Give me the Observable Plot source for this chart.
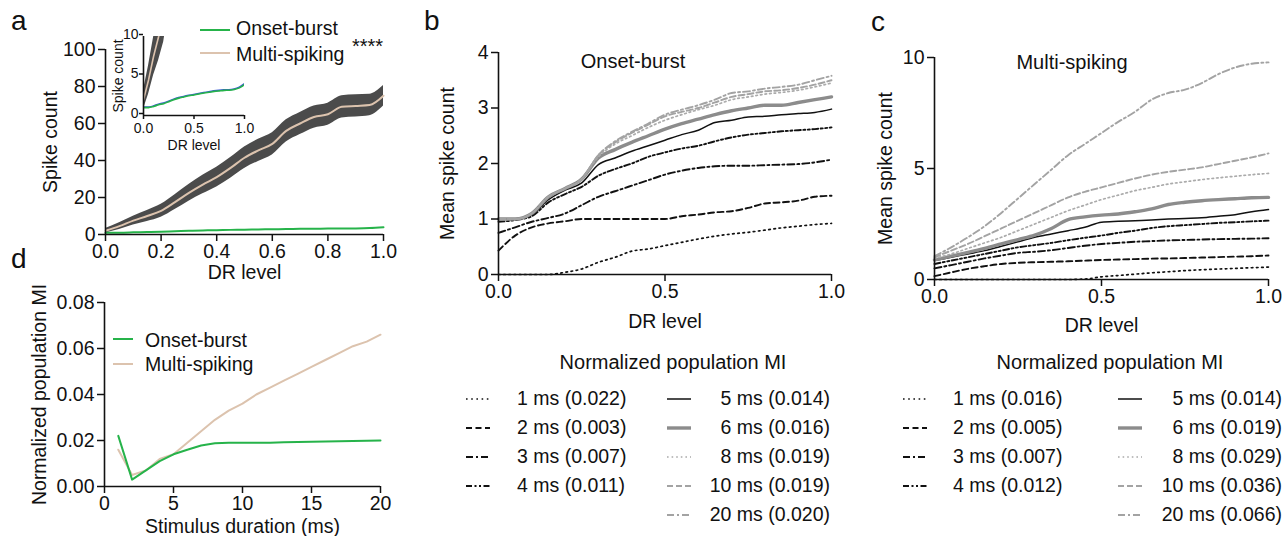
<!DOCTYPE html>
<html><head><meta charset="utf-8">
<script src="https://cdn.jsdelivr.net/npm/d3@7"></script>
<script src="https://cdn.jsdelivr.net/npm/@observablehq/plot@0.6"></script>
<style>
body{margin:0;background:#fff;}
#fig{position:relative;width:1285px;height:536px;overflow:hidden;background:#fff;font-family:"Liberation Sans",Arial,sans-serif;color:#111;}
#fig > svg, #fig > figure{position:absolute;margin:0;}
</style></head>
<body><div id="fig"></div>
<script>
// ---------- DATA ----------
const DR = [0,0.05,0.1,0.15,0.2,0.25,0.3,0.35,0.4,0.45,0.5,0.55,0.6,0.65,0.7,0.75,0.8,0.85,0.9,0.95,1.0];
// Panel a: spike count vs DR level
const aMultiMean = [2,4.5,7.5,10,12.8,17.5,22.5,27,31,36,41.5,45.5,49,56,60,63.5,65,69,69.5,70,75];
const aMultiHalf = [1.2,1.8,2.4,3,3.5,4,4.5,5,5.3,5.6,5.8,6,6,6,6,6,6,6,6,5.8,5.5];
const aOnsetMean = [1.0,1.0,1.15,1.35,1.5,1.75,2.0,2.2,2.35,2.5,2.6,2.72,2.85,2.95,3.05,3.12,3.18,3.2,3.3,3.5,3.9];
const aOnsetHalf = [0.1,0.1,0.1,0.1,0.1,0.1,0.1,0.1,0.1,0.1,0.1,0.1,0.1,0.1,0.1,0.1,0.1,0.1,0.1,0.12,0.15];
// Panel b: onset-burst mean spike count per stimulus duration
const durations = ["1 ms","2 ms","3 ms","4 ms","5 ms","6 ms","8 ms","10 ms","20 ms"];
const ob1  = [0,0,0,0,0.04,0.1,0.22,0.31,0.42,0.46,0.52,0.58,0.64,0.69,0.73,0.76,0.8,0.84,0.87,0.9,0.92];
const ob2  = [0.43,0.7,0.85,0.92,0.96,1.0,1.0,1.0,1.0,1.0,1.0,1.05,1.08,1.12,1.14,1.2,1.28,1.3,1.33,1.4,1.42];
const ob3  = [0.75,0.85,0.95,1.02,1.1,1.25,1.4,1.5,1.6,1.7,1.8,1.87,1.92,1.95,1.96,1.96,1.97,1.98,1.99,2.02,2.07];
const ob4  = [0.95,0.98,1.05,1.3,1.45,1.58,1.78,1.9,2.0,2.12,2.2,2.27,2.32,2.4,2.47,2.52,2.55,2.58,2.6,2.62,2.65];
const ob5  = [1.0,1.0,1.08,1.35,1.52,1.65,1.98,2.1,2.22,2.32,2.42,2.52,2.6,2.74,2.78,2.84,2.85,2.88,2.9,2.92,2.98];
const ob6  = [1.0,1.0,1.1,1.4,1.55,1.72,2.1,2.25,2.38,2.5,2.62,2.72,2.8,2.88,2.95,3.0,3.05,3.05,3.1,3.15,3.2];
const ob8  = [1.0,1.0,1.1,1.4,1.55,1.72,2.12,2.35,2.5,2.65,2.78,2.88,2.97,3.05,3.15,3.2,3.25,3.28,3.32,3.38,3.45];
const ob10 = [1.0,1.0,1.1,1.4,1.55,1.72,2.15,2.38,2.55,2.7,2.85,2.93,3.0,3.1,3.2,3.25,3.3,3.32,3.36,3.42,3.5];
const ob20 = [1.0,1.0,1.1,1.4,1.55,1.72,2.15,2.4,2.57,2.72,2.88,2.97,3.05,3.15,3.27,3.3,3.35,3.38,3.42,3.5,3.58];
// Panel c: multi-spiking
const ms1  = [0,0,0,0,0,0,0,0,0,0.02,0.12,0.18,0.24,0.3,0.35,0.4,0.44,0.47,0.5,0.53,0.56];
const ms2  = [0.15,0.32,0.48,0.6,0.7,0.75,0.78,0.8,0.82,0.85,0.88,0.9,0.92,0.94,0.95,0.97,0.99,1.01,1.03,1.05,1.08];
const ms3  = [0.5,0.65,0.8,0.95,1.08,1.2,1.25,1.32,1.42,1.52,1.6,1.65,1.7,1.73,1.76,1.78,1.8,1.82,1.83,1.84,1.86];
const ms4  = [0.7,0.85,1.0,1.15,1.3,1.45,1.55,1.65,1.77,1.88,1.98,2.1,2.2,2.32,2.4,2.45,2.5,2.55,2.58,2.62,2.65];
const ms5  = [0.85,1.0,1.15,1.3,1.5,1.7,1.9,2.05,2.2,2.35,2.58,2.62,2.65,2.68,2.72,2.75,2.78,2.85,2.92,3.05,3.15];
const ms6  = [0.88,1.05,1.22,1.4,1.6,1.8,2.0,2.3,2.7,2.82,2.9,2.95,3.05,3.18,3.38,3.48,3.55,3.6,3.64,3.68,3.7];
const ms8  = [0.95,1.15,1.4,1.65,1.9,2.2,2.5,2.8,3.1,3.35,3.6,3.8,4.0,4.15,4.3,4.4,4.5,4.58,4.65,4.72,4.78];
const ms10 = [1.0,1.3,1.6,1.95,2.3,2.65,3.0,3.35,3.7,3.95,4.15,4.35,4.55,4.72,4.85,4.95,5.05,5.2,5.35,5.5,5.68];
const ms20 = [1.05,1.45,1.9,2.4,3.0,3.65,4.3,4.95,5.6,6.1,6.6,7.1,7.55,8.1,8.4,8.55,8.85,9.25,9.55,9.72,9.78];
const miOnset = ["0.022","0.003","0.007","0.011","0.014","0.016","0.019","0.019","0.020"];
const miMulti = ["0.016","0.005","0.007","0.012","0.014","0.019","0.029","0.036","0.066"];
// Panel d: normalized population MI vs stimulus duration
const stimDur = [1,2,3,4,5,6,7,8,9,10,11,12,13,14,15,16,17,18,19,20];
const dOnset = [0.022,0.003,0.007,0.011,0.014,0.016,0.0178,0.0188,0.019,0.019,0.019,0.019,0.0192,0.0193,0.0195,0.0196,0.0197,0.0198,0.0199,0.020];
const dMulti = [0.016,0.005,0.007,0.012,0.014,0.019,0.024,0.029,0.033,0.036,0.040,0.043,0.046,0.049,0.052,0.055,0.058,0.061,0.063,0.066];
const groups = ["Onset-burst","Multi-spiking"];

// ---------- STYLES ----------
const GREEN = "#26b34a", TAN = "#dcc3ae", BAND = "#4b4b4b", INK = "#111";
const FONT = "Liberation Sans, Arial, sans-serif";
const lineStyles = [
  {stroke:INK, w:1.7, dash:"1.6,3.6"},
  {stroke:INK, w:1.9, dash:"6,3.5"},
  {stroke:INK, w:1.9, dash:"7,3,2,3"},
  {stroke:INK, w:1.9, dash:"6,2.5,2,2.5,2,2.5"},
  {stroke:INK, w:1.5, dash:null},
  {stroke:"#8c8c8c", w:3.4, dash:null},
  {stroke:"#ababab", w:1.7, dash:"1.6,3"},
  {stroke:"#a3a3a3", w:1.9, dash:"6,3"},
  {stroke:"#a3a3a3", w:1.9, dash:"7,3,2,3"}
];
const fig = document.getElementById("fig");
function place(el, left, top){ el.style.left = left+"px"; el.style.top = top+"px"; fig.appendChild(el); }
const baseStyle = (fs)=>({fontFamily: FONT, fontSize: fs+"px", color: INK, background: "transparent", overflow: "visible"});
const lo = (m,h)=>m.map((v,i)=>v-h[i]);
const hi = (m,h)=>m.map((v,i)=>v+h[i]);
function axes(o){
  return [
    Plot.axisY({ticks:o.yTicks, tickFormat:o.yFmt, tickSize:o.ts, tickPadding:o.tpy ?? o.tp, label:o.yLabel, labelArrow:"none", labelAnchor:"center", labelOffset:o.yOff, stroke:INK, strokeWidth:1.5}),
    Plot.axisX({ticks:o.xTicks, tickFormat:o.xFmt, tickSize:o.ts, tickPadding:o.tp, label:o.xLabel, labelArrow:"none", labelAnchor:"center", labelOffset:o.xOff, stroke:INK, strokeWidth:1.5}),
    Plot.ruleX([o.x0], {stroke:INK, strokeWidth:1.6}),
    Plot.ruleY([o.y0], {stroke:INK, strokeWidth:1.6})
  ];
}
const f1 = d3.format(".1f"), f2 = d3.format(".2f");

// ---------- PANEL a ----------
place(Plot.plot({
  width:400, height:280, marginLeft:105, marginRight:17, marginTop:49, marginBottom:46,
  style: baseStyle(19.5),
  x:{domain:[0,1]}, y:{domain:[0,100]},
  marks:[
    Plot.areaY(DR, {x:DR, y1:lo(aMultiMean,aMultiHalf), y2:hi(aMultiMean,aMultiHalf), fill:BAND, curve:"monotone-x"}),
    Plot.line(aMultiMean, {x:DR, y:aMultiMean, stroke:TAN, strokeWidth:2, curve:"monotone-x"}),
    Plot.line(aOnsetMean, {x:DR, y:aOnsetMean, stroke:GREEN, strokeWidth:2, curve:"monotone-x"}),
    ...axes({yTicks:[0,20,40,60,80,100], yFmt:d=>String(d), xTicks:[0,0.2,0.4,0.6,0.8,1], xFmt:f1, ts:7, tp:3,
      yLabel:"Spike count", yOff:62, xLabel:"DR level", xOff:44, x0:0, y0:0})
  ]
}), 0, 0);

// inset
place(Plot.plot({
  width:160, height:135, marginLeft:43, marginRight:16, marginTop:16, marginBottom:40,
  style: baseStyle(14),
  x:{domain:[0,1]}, y:{domain:[0,10]},
  marks:[
    Plot.areaY(DR, {x:DR, y1:lo(aMultiMean,aMultiHalf), y2:hi(aMultiMean,aMultiHalf), fill:BAND, clip:true}),
    Plot.line(aMultiMean, {x:DR, y:aMultiMean, stroke:TAN, strokeWidth:1.6, clip:true}),
    Plot.areaY(DR, {x:DR, y1:lo(aOnsetMean,aOnsetHalf), y2:hi(aOnsetMean,aOnsetHalf), fill:"#3b5bd0", curve:"monotone-x", clip:true}),
    Plot.line(aOnsetMean, {x:DR, y:aOnsetMean, stroke:GREEN, strokeWidth:1.6, curve:"monotone-x", clip:true}),
    Plot.axisY({ticks:[0,5,10], tickFormat:d=>String(d), tickSize:4, tickPadding:1, dy:-2, label:"Spike count", labelArrow:"none", labelAnchor:"center", labelOffset:30, stroke:INK, strokeWidth:1.5}),
    Plot.axisX({ticks:[0,0.5,1], tickFormat:f1, tickSize:4, tickPadding:4, label:"DR level", labelArrow:"none", labelAnchor:"center", labelOffset:34, stroke:INK, strokeWidth:1.5}),
    Plot.ruleX([0], {stroke:INK, strokeWidth:1.6}),
    Plot.ruleY([0], {stroke:INK, strokeWidth:1.6})
  ]
}), 100, 20);

// ---------- PANELS b & c ----------
function durPanel(series, yDomain, yTicks, dims, left){
  const marks = series.map((vals,i)=>Plot.line(vals, {x:DR, y:vals, stroke:lineStyles[i].stroke, strokeWidth:lineStyles[i].w,
      strokeDasharray:lineStyles[i].dash, curve:"monotone-x"}));
  return place(Plot.plot({
    width:dims.w, height:340, marginLeft:dims.ml, marginRight:dims.mr, marginTop:dims.mt, marginBottom:dims.mb,
    style: baseStyle(19.5),
    x:{domain:[0,1]}, y:{domain:yDomain},
    marks:[...marks,
      ...axes({yTicks, yFmt:d=>String(d), xTicks:[0,0.5,1], xFmt:f1, ts:7, tp:3,
        yLabel:"Mean spike count", yOff:dims.yOff, xLabel:"DR level", xOff:dims.xOff, x0:0, y0:yDomain[0]})]
  }), left, 0);
}
durPanel([ob1,ob2,ob3,ob4,ob5,ob6,ob8,ob10,ob20], [0,4], [0,1,2,3,4], {w:450, ml:98, mr:19, mt:52, mb:66, yOff:58, xOff:53}, 400);
durPanel([ms1,ms2,ms3,ms4,ms5,ms6,ms8,ms10,ms20], [0,10], [0,5,10], {w:435, ml:84, mr:17, mt:57, mb:61, yOff:56, xOff:52}, 850);

// ---------- PANEL d ----------
place(Plot.plot({
  width:400, height:256, marginLeft:104, marginRight:20, marginTop:22, marginBottom:50,
  style: baseStyle(19.5),
  x:{domain:[0,20]}, y:{domain:[0,0.08]},
  marks:[
    Plot.line(dMulti, {x:stimDur, y:dMulti, stroke:TAN, strokeWidth:2}),
    Plot.line(dOnset, {x:stimDur, y:dOnset, stroke:GREEN, strokeWidth:2}),
    ...axes({yTicks:[0,0.02,0.04,0.06,0.08], yFmt:f2, xTicks:[0,5,10,15,20], xFmt:d=>String(d), ts:7, tp:3,
      yLabel:"Normalized population MI", yOff:72, xLabel:"Stimulus duration (ms)", xOff:46, x0:0, y0:0})
  ]
}), 0, 280);

// ---------- OVERLAY: letters, titles, legends ----------
const ov = d3.select(fig).append("svg").attr("width",1285).attr("height",536)
  .style("left","0px").style("top","0px").style("position","absolute")
  .attr("font-family", FONT).attr("fill", INK);
[["a",11,30],["b",424,30],["c",871,31],["d",11,268]].forEach(([t,x,y])=>
  ov.append("text").attr("x",x).attr("y",y).attr("font-size",28).text(t));
ov.append("text").attr("x",633).attr("y",68).attr("text-anchor","middle").attr("font-size",20).text("Onset-burst");
ov.append("text").attr("x",1072).attr("y",69).attr("text-anchor","middle").attr("font-size",20).text("Multi-spiking");
ov.append("text").attr("x",352).attr("y",53).attr("font-size",20).text("****");

function groupLegend(x1,x2,tx,ys,fs){
  groups.forEach((g,i)=>{
    ov.append("line").attr("x1",x1).attr("x2",x2).attr("y1",ys[i][0]).attr("y2",ys[i][0])
      .attr("stroke", i===0?GREEN:TAN).attr("stroke-width",2);
    ov.append("text").attr("x",tx).attr("y",ys[i][1]).attr("font-size",fs).text(g);
  });
}
groupLegend(200,230,236,[[30,35],[53,61]],19.5);
groupLegend(113,133,145,[[339,347],[364,371]],19.5);

function durLegend(cx, L, R, mi){
  ov.append("text").attr("x",cx).attr("y",369).attr("text-anchor","middle").attr("font-size",20).text("Normalized population MI");
  const rows = [405,434,463,492,521];
  durations.forEach((d,i)=>{
    const s = lineStyles[i];
    const left = i<4, r = left?i:i-4, y = rows[r];
    const c = left?L:R;
    ov.append("line").attr("x1",c.l1).attr("x2",c.l2).attr("y1",y-6).attr("y2",y-6)
      .attr("stroke",s.stroke).attr("stroke-width",s.w).attr("stroke-dasharray",s.dash);
    ov.append("text").attr("x",c.t).attr("y",y).attr("font-size",19.5)
      .attr("text-anchor", left?"start":"end").text(`${d} (${mi[i]})`);
  });
}
durLegend(673, {l1:466,l2:490,t:517}, {l1:667,l2:691,t:830}, miOnset);
durLegend(1110, {l1:903,l2:927,t:953}, {l1:1118,l2:1142,t:1282}, miMulti);
</script></body></html>
